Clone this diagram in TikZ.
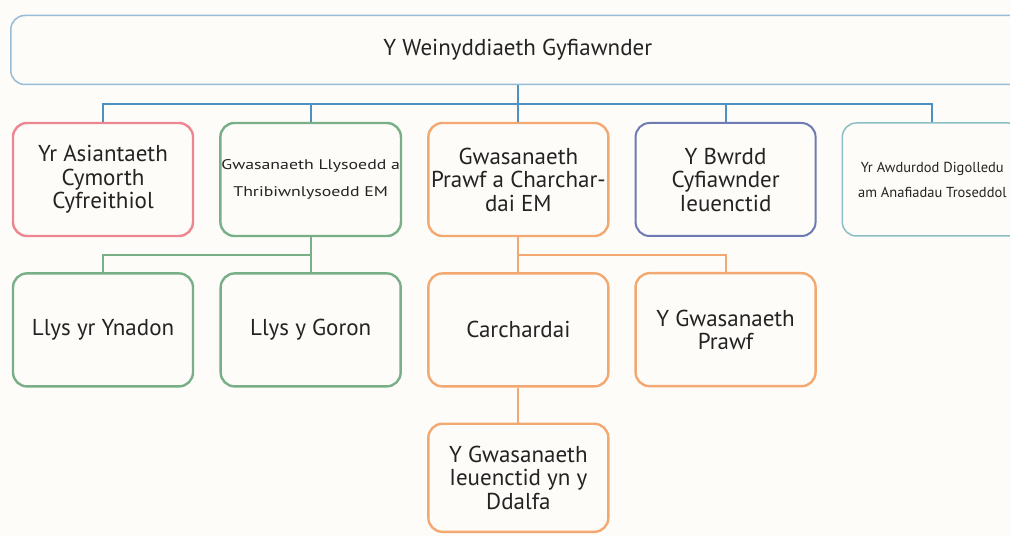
\documentclass[tikz,border=0pt]{standalone}
\usepackage{fontspec}
\setmainfont{PT Sans}
\newfontfamily\widesans[FakeStretch=1.27]{PT Sans}
\usepackage{tikz}
\usetikzlibrary{positioning}
\definecolor{bgcream}{RGB}{253,252,248}
\definecolor{textgray}{RGB}{35,35,35}
\definecolor{mojblue}{RGB}{150,188,215}
\definecolor{busblue}{RGB}{75,145,195}
\definecolor{laared}{RGB}{236,135,145}
\definecolor{hmctsgreen}{RGB}{120,175,135}
\definecolor{nomsorange}{RGB}{242,168,112}
\definecolor{yjbblue}{RGB}{110,122,180}
\definecolor{cicateal}{RGB}{140,190,195}

\begin{document}
\begin{tikzpicture}[
        x=1pt, y=1pt,
        node distance=35pt and 25pt,
        org/.style={rectangle, draw, line width=2.4pt, rounded corners=14pt, minimum width=180pt, minimum height=113pt, align=center, text=textgray, inner sep=1pt, font=\fontsize{23}{23.5}\selectfont},
        smalltext/.style={font=\widesans\fontsize{14}{27}\selectfont},
        tinytext/.style={font=\fontsize{14.5}{25}\selectfont},
        link/.style={line width=2pt}
    ]
        \fill[bgcream] (0,0) rectangle (1010,536);
        \clip (0,0) rectangle (1010,536);
        \useasboundingbox (0,0) rectangle (1010,536);

        \node[org, draw=mojblue, line width=1.5pt, minimum width=1014pt, minimum height=69pt] (moj) at (517.8,486) {Y Weinyddiaeth Gyfiawnder};

        \node[org, draw=laared] (laa) at (103,356.5) {Yr Asiantaeth\\Cymorth\\Cyfreithiol};
        \node[org, draw=hmctsgreen, right=of laa, smalltext] (hmcts) {Gwasanaeth Llysoedd a\\Thribiwnlysoedd EM};
        \node[org, draw=nomsorange, right=of hmcts] (noms) {Gwasanaeth\\Prawf a Charchar-\\dai EM};
        \node[org, draw=yjbblue, line width=2pt, right=of noms] (yjb) {Y Bwrdd\\Cyfiawnder\\Ieuenctid};
        \node[org, draw=cicateal, line width=1.5pt, right=of yjb, tinytext] (cica) {Yr Awdurdod Digolledu\\am Anafiadau Troseddol};

        \node[org, draw=hmctsgreen, below=of laa] (ynadon) {Llys yr Ynadon};
        \node[org, draw=hmctsgreen, below=of hmcts] (goron) {Llys y Goron};
        \node[org, draw=nomsorange, below=of noms] (carchar) {Carchardai};
        \node[org, draw=nomsorange, below=of yjb] (probation) {Y Gwasanaeth\\Prawf};
        \node[org, draw=nomsorange, below=of carchar, minimum height=108pt] (yos) {Y Gwasanaeth\\Ieuenctid yn y\\Ddalfa};

        % bus from the ministry
        \draw[link, busblue] (moj.south) -- ++(0,-19) coordinate (bus);
        \foreach \n in {laa, hmcts, noms, yjb, cica}
            \draw[link, busblue] (bus) -| (\n.north);

        % courts
        \draw[link, hmctsgreen] (hmcts.south) -- (goron.north);
        \draw[link, hmctsgreen] (hmcts.south) -- ++(0,-18) -| (ynadon.north);

        % prisons and probation
        \draw[link, nomsorange] (noms.south) -- (carchar.north);
        \draw[link, nomsorange] (noms.south) -- ++(0,-18) -| (probation.north);
        \draw[link, nomsorange] (carchar.south) -- (yos.north);
    \end{tikzpicture}
\end{document}
